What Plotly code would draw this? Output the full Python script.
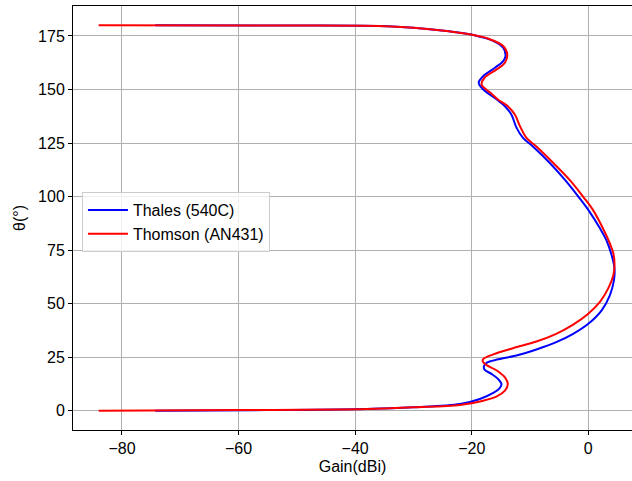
import plotly.graph_objects as go

# Thales (540C): theta (deg) and gain (dBi)
thales_theta = [0, 0.3, 0.8, 1.6, 3.1, 5.5, 8.3, 10.5, 12.5, 14.9, 17.2, 19.2, 20.8, 22.5,
                24.0, 26.0, 28.6, 32.0, 35.9, 40.6, 46.9, 53.9, 60.9, 66.4, 72.7, 79.7,
                85.2, 93.8, 100, 107.8, 115.7, 123.4, 127.4, 132.1, 138.3, 142.2, 145.3,
                150, 153.2, 156.3, 160.2, 163.3, 165.6, 169.5, 173.1, 175.3, 177.3, 178.9,
                179.7, 179.9, 180]
thales_gain = [-74.3, -55, -38, -30, -22.0, -18.6, -16.3, -15.2, -14.9, -15.5, -16.6, -17.8,
               -17.9, -17.4, -15.4, -12.0, -8.9, -5.5, -2.6, 0.0, 2.3, 3.7, 4.4, 4.5, 4.0,
               3.1, 2.0, 0.0, -1.7, -4.0, -6.6, -9.5, -11.2, -12.3, -13.2, -14.3, -15.7,
               -18.0, -18.8, -18.0, -16.0, -14.6, -14.2, -14.6, -16.6, -19.5, -24.3, -30.0,
               -36, -52, -74.3]

# Thomson (AN431)
thomson_theta = [0, 0.3, 0.8, 1.6, 2.7, 4.7, 6.7, 9.4, 12.5, 15.6, 18.8, 21.4, 23.0, 24.2,
                 26.3, 29.2, 32.3, 35.9, 40.2, 45.3, 50.8, 57.0, 63.3, 68.0, 73.5, 78.1,
                 83.6, 93.8, 100, 107.8, 115.7, 123.4, 127.4, 132.8, 138.3, 142.2, 145.3,
                 148, 150, 152.3, 155.5, 159.4, 162.5, 166.4, 170.3, 173.5, 175.3, 177.3,
                 178.9, 179.7, 179.9, 180]
thomson_gain = [-84, -60, -38, -30, -22.0, -18.0, -15.7, -14.3, -13.8, -14.3, -15.7, -17.5,
                -18.1, -18.0, -16.3, -12.9, -8.9, -5.5, -2.6, 0.0, 2.0, 3.4, 4.3, 4.5, 4.3,
                3.7, 2.8, 0.8, -0.9, -3.2, -6.0, -8.9, -10.6, -11.7, -12.6, -13.8, -15.5,
                -16.6, -17.5, -18.3, -17.8, -15.7, -14.3, -13.9, -14.6, -16.9, -19.5, -24.3,
                -30.0, -36, -55, -84]

FONT = "Liberation Sans"
FS = 16

fig = go.Figure()
fig.add_trace(go.Scatter(x=thales_gain, y=thales_theta, mode="lines", name="Thales (540C)",
                         line=dict(color="#0000ff", width=2, shape="spline", smoothing=1.0)))
fig.add_trace(go.Scatter(x=thomson_gain, y=thomson_theta, mode="lines", name="Thomson (AN431)",
                         line=dict(color="#ff0000", width=2, shape="spline", smoothing=1.0)))

axis_common = dict(showgrid=True, gridcolor="#b0b0b0", gridwidth=1, zeroline=False,
                   showline=True, linecolor="black", linewidth=1, ticks="outside",
                   ticklen=4, tickcolor="black",
                   tickfont=dict(family=FONT, size=FS, color="black"))

fig.update_layout(
    width=632, height=481,
    margin=dict(l=73, r=0, t=6, b=51),
    paper_bgcolor="white", plot_bgcolor="white",
    font=dict(family=FONT, size=FS, color="black"),
    xaxis=dict(range=[-88.4, 7.5], dtick=20, mirror=True,
               title=dict(text="Gain(dBi)", font=dict(family=FONT, size=FS), standoff=4),
               **axis_common),
    yaxis=dict(range=[-9, 189], dtick=25,
               title=dict(text="θ(°)", font=dict(family=FONT, size=FS), standoff=8),
               **axis_common),
    legend=dict(x=0.016, y=0.561, xanchor="left", yanchor="top",
                bgcolor="rgba(255,255,255,0.8)", bordercolor="#cccccc", borderwidth=1,
                font=dict(family=FONT, size=FS), tracegroupgap=0, itemwidth=40),
    showlegend=True,
)

fig.write_html("out.html")
